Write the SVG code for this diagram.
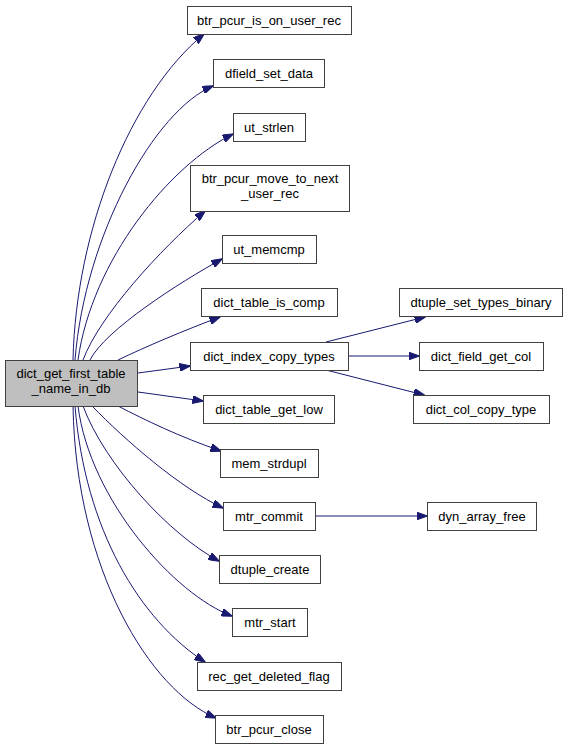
<svg xmlns="http://www.w3.org/2000/svg" width="568" height="749" viewBox="0 0 568 749">
<style>
.n rect{fill:#fff;stroke:#404040;stroke-width:1}
.root rect{fill:#bfbfbf}
text{font-family:"Liberation Sans",Arial,sans-serif;font-size:13px;fill:#000;text-anchor:middle}
.e path{fill:none;stroke:#191970;stroke-width:1;marker-end:url(#ah)}
</style>
<defs>
<marker id="ah" viewBox="0 0 11 8" markerWidth="11" markerHeight="8" refX="10.5" refY="4" orient="auto" markerUnits="userSpaceOnUse">
<path d="M0,0 L11,4 L0,8 Z" fill="#191970" stroke="#191970" stroke-width="1"/>
</marker>
</defs>
<rect width="568" height="749" fill="#fff"/>
<g class="e" id="edges">
<path d="M73,360 C76,230 130,95 204,34"/>
<path d="M75,360 C85,235 155,110 213,86"/>
<path d="M78,360 C92,260 170,165 233,134"/>
<path d="M83,360 C100,315 160,250 205,211"/>
<path d="M90,360 C105,330 180,282 222,259"/>
<path d="M118,360 C145,347 185,330 220,317"/>
<path d="M138,373 L190,366"/>
<path d="M138,392 L203,401"/>
<path d="M118,406 C145,420 180,437 221,451"/>
<path d="M92,406 C125,440 180,488 223,508"/>
<path d="M83,406 C105,465 170,535 219,561"/>
<path d="M78,406 C90,500 175,595 232,616"/>
<path d="M75,406 C85,530 140,620 205,662"/>
<path d="M73,406 C76,570 150,690 216,718"/>
<path d="M326,342 L425,317"/>
<path d="M348,356 L419,356"/>
<path d="M326,370 L424,395"/>
<path d="M315,516 L427,516"/>
</g>
<g id="n_root" class="n root"><rect x="5.5" y="360.5" width="132" height="46"/><text x="71" y="378">dict_get_first_table</text><text x="71" y="393">_name_in_db</text></g>
<g id="n1" class="n"><rect x="187.5" y="6.5" width="164" height="28"/><text x="269" y="25">btr_pcur_is_on_user_rec</text></g>
<g id="n2" class="n"><rect x="213.5" y="59.5" width="111" height="28"/><text x="269" y="78">dfield_set_data</text></g>
<g id="n3" class="n"><rect x="233.5" y="113.5" width="72" height="28"/><text x="269" y="132">ut_strlen</text></g>
<g id="n4" class="n"><rect x="190.5" y="165.5" width="159" height="46"/><text x="270" y="183">btr_pcur_move_to_next</text><text x="270" y="198">_user_rec</text></g>
<g id="n5" class="n"><rect x="222.5" y="235.5" width="94" height="28"/><text x="269" y="254">ut_memcmp</text></g>
<g id="n6" class="n"><rect x="201.5" y="288.5" width="136" height="28"/><text x="269" y="307">dict_table_is_comp</text></g>
<g id="n7" class="n"><rect x="190.5" y="342.5" width="158" height="28"/><text x="269" y="361">dict_index_copy_types</text></g>
<g id="n8" class="n"><rect x="203.5" y="395.5" width="131" height="28"/><text x="269" y="414">dict_table_get_low</text></g>
<g id="n9" class="n"><rect x="220.5" y="449.5" width="98" height="28"/><text x="269" y="468">mem_strdupl</text></g>
<g id="n10" class="n"><rect x="223.5" y="502.5" width="92" height="28"/><text x="269" y="521">mtr_commit</text></g>
<g id="n11" class="n"><rect x="219.5" y="555.5" width="101" height="28"/><text x="270" y="574">dtuple_create</text></g>
<g id="n12" class="n"><rect x="232.5" y="608.5" width="75" height="28"/><text x="270" y="627">mtr_start</text></g>
<g id="n13" class="n"><rect x="197.5" y="662.5" width="144" height="28"/><text x="269" y="681">rec_get_deleted_flag</text></g>
<g id="n14" class="n"><rect x="215.5" y="715.5" width="108" height="28"/><text x="269" y="734">btr_pcur_close</text></g>
<g id="n15" class="n"><rect x="399.5" y="288.5" width="163" height="28"/><text x="481" y="307">dtuple_set_types_binary</text></g>
<g id="n16" class="n"><rect x="419.5" y="342.5" width="124" height="28"/><text x="481" y="361">dict_field_get_col</text></g>
<g id="n17" class="n"><rect x="413.5" y="395.5" width="136" height="28"/><text x="481" y="414">dict_col_copy_type</text></g>
<g id="n18" class="n"><rect x="427.5" y="502.5" width="109" height="28"/><text x="482" y="521">dyn_array_free</text></g>
</svg>
